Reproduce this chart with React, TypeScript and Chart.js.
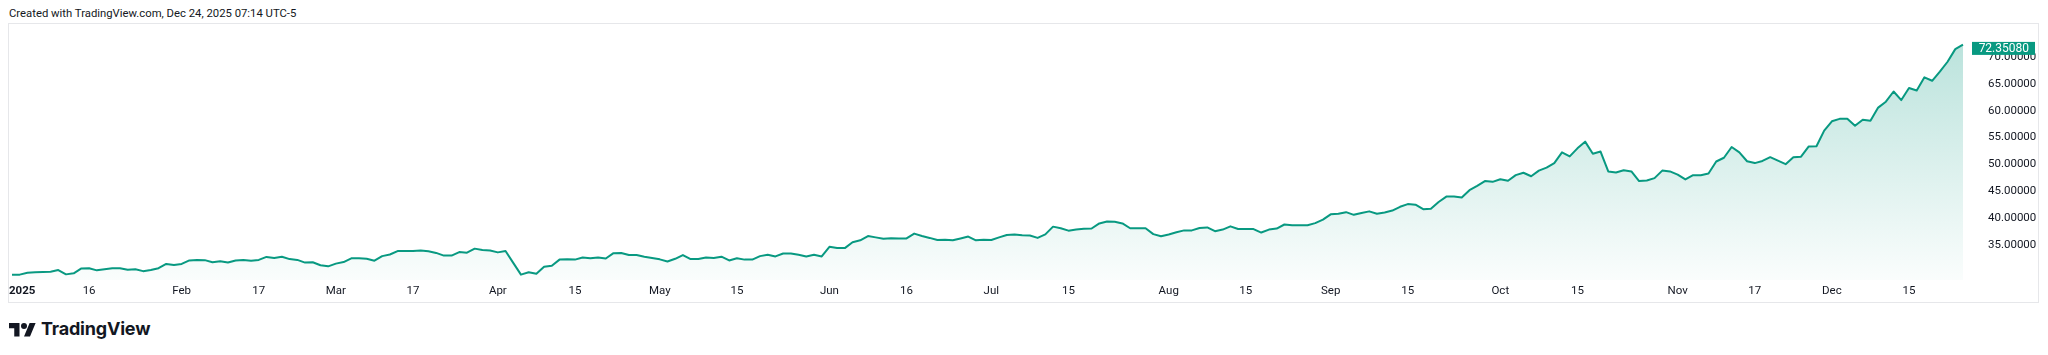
import React, { useEffect, useRef } from 'react';
import { Chart, registerables } from 'chart.js';

Chart.register(...registerables);

// ---- data ----
const firstDay = '2025-01-02';
const lastDay = '2025-12-24';
const holidays = ['2025-04-18'];

const prices: number[] = [
  29.45, 29.45, 29.8, 29.9, 29.95, 30.0, 30.3, 29.5, 29.7, 30.6,
  30.65, 30.25, 30.45, 30.65, 30.65, 30.35, 30.45, 30.1, 30.3, 30.65,
  31.45, 31.25, 31.45, 32.1, 32.2, 32.15, 31.75, 31.95, 31.7, 32.1,
  32.2, 32.05, 32.2, 32.75, 32.55, 32.8, 32.35, 32.2, 31.7, 31.75,
  31.2, 31.0, 31.5, 31.8, 32.5, 32.5, 32.4, 32.05, 32.9, 33.2,
  33.85, 33.85, 33.85, 33.95, 33.8, 33.5, 33.0, 33.0, 33.65, 33.55,
  34.3, 34.05, 33.95, 33.6, 33.85, 31.65, 29.45, 29.9, 29.6, 30.9,
  31.1, 32.25, 32.3, 32.25, 32.65, 32.5, 32.65, 32.45, 33.45, 33.5,
  33.1, 33.1, 32.8, 32.55, 32.3, 31.9, 32.4, 33.1, 32.35, 32.35,
  32.65, 32.55, 32.8, 32.1, 32.5, 32.25, 32.25, 32.9, 33.15, 32.85,
  33.4, 33.4, 33.15, 32.85, 33.15, 32.85, 34.65, 34.4, 34.4, 35.5,
  35.85, 36.65, 36.4, 36.15, 36.25, 36.2, 36.2, 37.1, 36.65, 36.3,
  35.9, 35.95, 35.85, 36.2, 36.55, 35.85, 35.95, 35.9, 36.4, 36.85,
  36.95, 36.8, 36.75, 36.3, 36.95, 38.4, 38.1, 37.65, 37.85, 38.0,
  38.05, 39.0, 39.35, 39.3, 39.0, 38.1, 38.1, 38.1, 37.0, 36.6,
  36.95, 37.35, 37.7, 37.7, 38.15, 38.25, 37.55, 37.85, 38.45, 37.95,
  37.95, 37.95, 37.3, 37.85, 38.05, 38.8, 38.65, 38.65, 38.65, 39.05,
  39.7, 40.7, 40.8, 41.1, 40.6, 40.95, 41.25, 40.8, 41.05, 41.4,
  42.1, 42.6, 42.5, 41.65, 41.75, 43.0, 44.0, 44.0, 43.85, 45.2,
  46.0, 46.9, 46.75, 47.25, 46.95, 48.0, 48.45, 47.8, 48.85, 49.4,
  50.25, 52.25, 51.5, 53.0, 54.25, 52.0, 52.4, 48.7, 48.5, 48.9,
  48.7, 46.9, 47.0, 47.45, 48.85, 48.7, 48.1, 47.2, 48.0, 48.0,
  48.3, 50.55, 51.25, 53.25, 52.25, 50.6, 50.25, 50.65, 51.35, 50.7,
  50.05, 51.35, 51.45, 53.35, 53.4, 56.3, 58.05, 58.5, 58.5, 57.2,
  58.35, 58.15, 60.6, 61.7, 63.6, 62.0, 64.25, 63.8, 66.25, 65.6,
  67.3, 69.15, 71.5, 72.3508,
];

const tickDates = [
  '2025-01-02', '2025-01-16', '2025-02-03', '2025-02-17', '2025-03-03', '2025-03-17',
  '2025-04-01', '2025-04-15', '2025-05-01', '2025-05-15', '2025-06-02', '2025-06-16',
  '2025-07-01', '2025-07-15', '2025-08-01', '2025-08-15', '2025-09-01', '2025-09-15',
  '2025-10-01', '2025-10-15', '2025-11-03', '2025-11-17', '2025-12-01', '2025-12-15',
];
const tickLabels = [
  '2025', '16', 'Feb', '17', 'Mar', '17', 'Apr', '15', 'May', '15', 'Jun', '16',
  'Jul', '15', 'Aug', '15', 'Sep', '15', 'Oct', '15', 'Nov', '17', 'Dec', '15',
];
const yearLabels = ['2025'];
const priceTicks = [35, 40, 45, 50, 55, 60, 65, 70];
const lastPriceText = '72.35080';
const headerText = 'Created with TradingView.com, Dec 24, 2025 07:14 UTC-5';

// ---- helpers ----
function tradingDays(): string[] {
  const out: string[] = [];
  const d = new Date(firstDay + 'T00:00:00Z');
  const end = new Date(lastDay + 'T00:00:00Z');
  while (d <= end) {
    const wd = d.getUTCDay();
    const s = d.toISOString().slice(0, 10);
    if (wd !== 0 && wd !== 6 && !holidays.includes(s)) out.push(s);
    d.setUTCDate(d.getUTCDate() + 1);
  }
  return out;
}

const GREEN = '#089981';
const TEXT = '#131722';
const FONT = 'Roboto, "Liberation Sans", sans-serif';

export default function App() {
  const ref = useRef<HTMLCanvasElement | null>(null);

  useEffect(() => {
    const canvas = ref.current;
    if (!canvas) return;
    const days = tradingDays();
    const n = prices.length;

    const decor = {
      id: 'decor',
      beforeDraw(chart: any) {
        const c = chart.ctx;
        c.save();
        c.fillStyle = '#ffffff';
        c.fillRect(0, 0, chart.width, chart.height);
        c.restore();
      },
      afterDraw(chart: any) {
        const c = chart.ctx;
        const area = chart.chartArea;
        const xs = chart.scales.x;
        const ys = chart.scales.y;
        c.save();
        // frame
        c.strokeStyle = '#e6e7ea';
        c.lineWidth = 1;
        c.strokeRect(0.5, 0.5, chart.width - 1, chart.height - 1);
        // time labels
        c.textBaseline = 'middle';
        c.fillStyle = TEXT;
        const ty = area.bottom + 11;
        tickDates.forEach((d, k) => {
          const idx = days.indexOf(d);
          if (idx < 0) return;
          const label = tickLabels[k];
          const bold = yearLabels.includes(label);
          c.font = `${bold ? 'bold ' : ''}11.5px ${FONT}`;
          const w = c.measureText(label).width;
          let left = xs.getPixelForValue(idx) - w / 2;
          if (left < area.left) left = area.left;
          c.textAlign = 'left';
          c.fillText(label, left, ty);
        });
        // last price badge
        const last = prices[n - 1];
        const yv = ys.getPixelForValue(last);
        const h = 13;
        let top = yv - h / 2;
        if (top < area.top) top = area.top;
        const bx = area.right + 4;
        const bw = 63;
        c.fillStyle = GREEN;
        c.fillRect(bx, top, bw, h);
        c.fillStyle = '#ffffff';
        c.font = `12px ${FONT}`;
        c.textAlign = 'right';
        c.fillText(lastPriceText, bx + bw - 6, top + h / 2 + 0.5);
        c.restore();
      },
    };

    const chart = new Chart(canvas, {
      type: 'line',
      data: {
        datasets: [
          {
            data: prices.map((p, i) => ({ x: i, y: p })),
            borderColor: GREEN,
            borderWidth: 2,
            borderJoinStyle: 'round',
            pointRadius: 0,
            tension: 0,
            fill: 'start',
            backgroundColor: (ctx: any) => {
              const ch = ctx.chart;
              const a = ch.chartArea;
              if (!a) return 'rgba(8,153,129,0.1)';
              const g = ch.ctx.createLinearGradient(0, a.top, 0, a.bottom);
              g.addColorStop(0, 'rgba(8,153,129,0.28)');
              g.addColorStop(1, 'rgba(8,153,129,0.02)');
              return g;
            },
          },
        ],
      },
      options: {
        animation: false,
        responsive: false,
        events: [],
        layout: { padding: { left: 1, top: 1, right: 1, bottom: 1 } },
        plugins: { legend: { display: false }, tooltip: { enabled: false } },
        scales: {
          x: {
            type: 'linear',
            min: -0.39,
            max: n - 1 + 0.65,
            grid: { display: false },
            border: { display: false },
            ticks: { display: false },
            afterFit: (s: any) => {
              s.height = 22;
            },
          },
          y: {
            type: 'linear',
            position: 'right',
            min: 28.45,
            max: 72.85,
            grid: { display: false },
            border: { display: false },
            ticks: {
              padding: 12,
              color: TEXT,
              font: { family: FONT, size: 11.5 },
              callback: (v: any) => Number(v).toFixed(5),
            },
            afterBuildTicks: (s: any) => {
              s.ticks = priceTicks.map((v) => ({ value: v }));
            },
            afterFit: (s: any) => {
              s.width = 70;
            },
          },
        },
      },
      plugins: [decor],
    } as any);

    return () => chart.destroy();
  }, []);

  return (
    <div
      style={{
        position: 'absolute',
        left: 0,
        top: 0,
        width: 2048,
        height: 355,
        background: '#ffffff',
        fontFamily: FONT,
        color: TEXT,
        overflow: 'hidden',
      }}
    >
      <div style={{ position: 'absolute', left: 9, top: 6, fontSize: 11.3, lineHeight: '16px', whiteSpace: 'nowrap' }}>
        {headerText}
      </div>
      <canvas
        ref={ref}
        width={2031}
        height={280}
        style={{ position: 'absolute', left: 8, top: 23, width: 2031, height: 280 }}
      />
      <div style={{ position: 'absolute', left: 9, top: 318, height: 22, display: 'flex', alignItems: 'center' }}>
        <svg width="27" height="18" viewBox="0 0 36 24" style={{ display: 'block' }}>
          <path d="M14 22H7V11H0V4h14v18zM28 22h-8l7.5-18h8L28 22z" fill={TEXT} />
          <circle cx="20" cy="8" r="4" fill={TEXT} />
        </svg>
        <span
          style={{
            marginLeft: 5,
            fontFamily: 'Inter, Roboto, sans-serif',
            fontWeight: 700,
            fontSize: 18,
            letterSpacing: -0.2,
            lineHeight: '22px',
          }}
        >
          TradingView
        </span>
      </div>
    </div>
  );
}
